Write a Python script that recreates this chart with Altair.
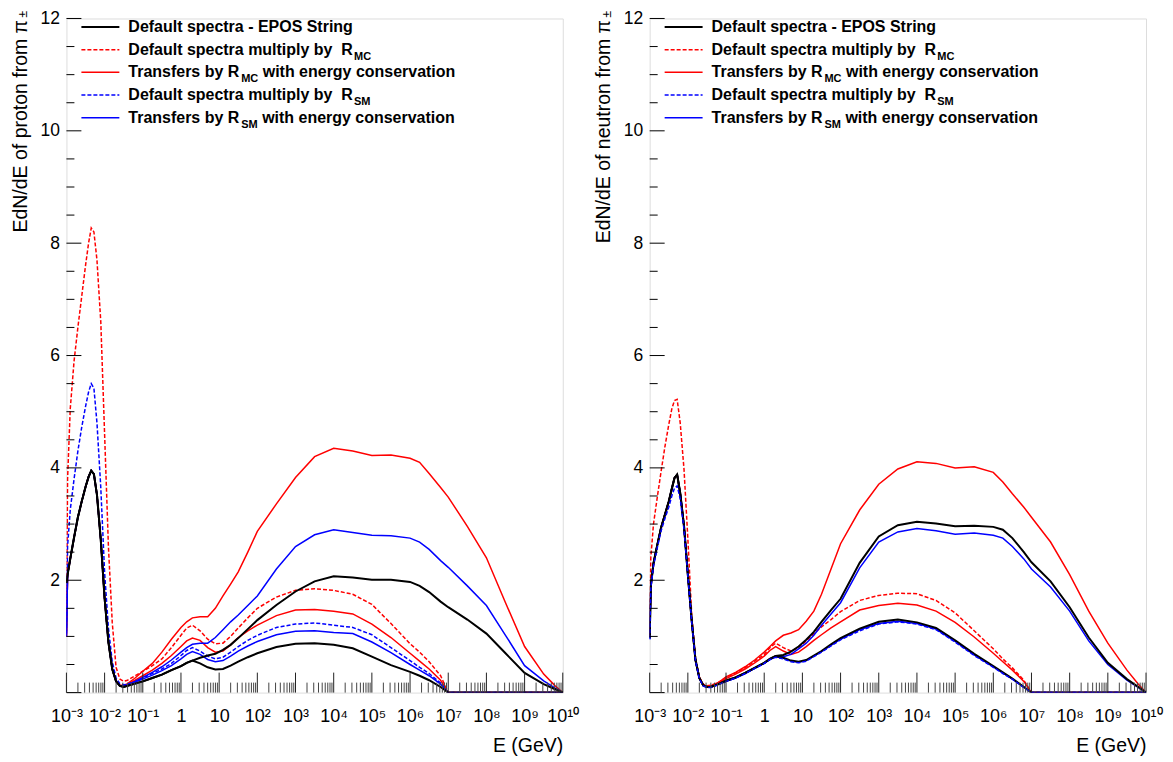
import altair as alt
import pandas as pd

# ---------------- data (log10 of E in GeV, and EdN/dE values) ----------------
LOG_E = [-3.0, -2.97, -2.9, -2.8, -2.7, -2.6, -2.5, -2.42, -2.35, -2.28, -2.2, -2.1,
         -2.0, -1.9, -1.8, -1.7, -1.6, -1.5, -1.4, -1.2, -1.0, -0.75, -0.5, -0.25,
         0.0, 0.15, 0.3, 0.5, 0.7, 0.9, 1.1, 1.3, 1.5, 1.75, 2.0, 2.5, 3.0, 3.5, 4.0,
         4.5, 5.0, 5.5, 6.0, 6.25, 6.5, 6.8, 7.0, 7.5, 8.0, 8.5, 9.0, 9.5, 9.8, 10.0]

# proton panel
P_BLACK_LO = [1.95, 2.1, 2.38, 2.76, 3.12, 3.4, 3.66, 3.84, 3.95, 3.89, 3.52, 2.72, 1.68, 0.9, 0.42, 0.2, 0.12, 0.1,
              0.12, 0.16, 0.2, 0.26, 0.32, 0.4, 0.47, 0.53, 0.57, 0.52, 0.45, 0.41, 0.42, 0.48, 0.55, 0.63,
              0.7, 0.81, 0.87, 0.88, 0.85, 0.79, 0.64, 0.49, 0.37, 0.3, 0.22, 0.1, 0.0, 0, 0, 0, 0, 0, 0, 0]
P_BLACK_HI = [1.95, 2.1, 2.38, 2.76, 3.12, 3.4, 3.66, 3.84, 3.95, 3.89, 3.52, 2.72, 1.68, 0.9, 0.42, 0.2, 0.12, 0.1,
              0.12, 0.16, 0.2, 0.26, 0.32, 0.4, 0.47, 0.53, 0.57,
              0.62, 0.66, 0.69, 0.76, 0.85, 0.97, 1.13, 1.29, 1.56, 1.8, 1.98, 2.07, 2.05, 2.01, 2.01, 1.97, 1.9,
              1.79, 1.62, 1.52, 1.3, 1.05, 0.7, 0.35, 0.15, 0.06, 0.0]
P_RED_DASH = [1.1, 3.8, 5.05, 5.9, 6.5, 7.05, 7.6, 8.0, 8.27, 8.2, 7.7, 6.6, 4.6, 2.6, 1.25, 0.45, 0.24, 0.2,
              0.22, 0.3, 0.38, 0.48, 0.6, 0.8, 1.02, 1.15, 1.2, 1.1, 0.95, 0.87, 0.88, 1.0, 1.15, 1.33,
              1.5, 1.7, 1.82, 1.85, 1.82, 1.75, 1.57, 1.23, 0.87, 0.72, 0.55, 0.3, 0.0, 0, 0, 0, 0, 0, 0, 0]
P_RED_LO = [1.0, 2.1, 2.38, 2.76, 3.12, 3.4, 3.66, 3.84, 3.95, 3.89, 3.52, 2.72, 1.68, 0.9, 0.42, 0.2, 0.13, 0.12,
            0.15, 0.22, 0.3, 0.4, 0.52, 0.66, 0.82, 0.92, 0.97, 0.93, 0.8, 0.72, 0.74, 0.85, 0.98, 1.1,
            1.2, 1.37, 1.47, 1.48, 1.45, 1.4, 1.22, 0.98, 0.7, 0.56, 0.42, 0.22, 0.0, 0, 0, 0, 0, 0, 0, 0]
P_RED_HI = [1.0, 2.1, 2.38, 2.76, 3.12, 3.4, 3.66, 3.84, 3.95, 3.89, 3.52, 2.72, 1.68, 0.9, 0.42, 0.2, 0.13, 0.12,
            0.16, 0.26, 0.38, 0.52, 0.72, 0.95, 1.16, 1.26, 1.33, 1.35, 1.35, 1.5, 1.72, 1.93, 2.15, 2.5,
            2.87, 3.36, 3.83, 4.2, 4.35, 4.3, 4.22, 4.23, 4.17, 4.1, 3.9, 3.65, 3.48, 2.96, 2.4, 1.6, 0.82, 0.33, 0.12, 0.0]
P_BLUE_DASH = [1.05, 2.6, 3.25, 3.8, 4.3, 4.72, 5.09, 5.35, 5.5, 5.42, 4.8, 3.65, 2.14, 1.15, 0.55, 0.26, 0.16, 0.14,
               0.15, 0.2, 0.26, 0.34, 0.42, 0.52, 0.66, 0.75, 0.8, 0.74, 0.65, 0.6, 0.63, 0.72, 0.82, 0.93,
               1.02, 1.16, 1.22, 1.24, 1.2, 1.16, 1.03, 0.8, 0.57, 0.45, 0.34, 0.17, 0.0, 0, 0, 0, 0, 0, 0, 0]
P_BLUE_LO = [1.0, 2.1, 2.38, 2.76, 3.12, 3.4, 3.66, 3.84, 3.95, 3.89, 3.52, 2.72, 1.68, 0.9, 0.42, 0.2, 0.12, 0.11,
             0.13, 0.19, 0.24, 0.31, 0.39, 0.48, 0.6, 0.68, 0.73, 0.68, 0.59, 0.55, 0.57, 0.65, 0.74, 0.83,
             0.91, 1.03, 1.09, 1.1, 1.07, 1.05, 0.9, 0.71, 0.5, 0.4, 0.3, 0.15, 0.0, 0, 0, 0, 0, 0, 0, 0]
P_BLUE_HI = [1.0, 2.1, 2.38, 2.76, 3.12, 3.4, 3.66, 3.84, 3.95, 3.89, 3.52, 2.72, 1.68, 0.9, 0.42, 0.2, 0.12, 0.11,
             0.14, 0.2, 0.27, 0.36, 0.46, 0.58, 0.72, 0.8, 0.86, 0.88, 0.88, 0.98, 1.12, 1.26, 1.38, 1.55,
             1.72, 2.2, 2.6, 2.81, 2.9, 2.85, 2.8, 2.79, 2.75, 2.68, 2.55, 2.35, 2.23, 1.9, 1.55, 1.02, 0.48, 0.21, 0.08, 0.0]

# neutron panel
N_BLACK_LO = [0.97, 1.9, 2.3, 2.63, 2.94, 3.17, 3.4, 3.63, 3.82, 3.88, 3.55, 2.96, 2.1, 1.29, 0.58, 0.26, 0.13, 0.1,
              0.1, 0.15, 0.21, 0.27, 0.35, 0.44, 0.53, 0.6, 0.65, 0.62, 0.57, 0.55, 0.58, 0.66, 0.74, 0.86,
              0.97, 1.14, 1.26, 1.3, 1.25, 1.15, 0.93, 0.69, 0.47, 0.36, 0.25, 0.1, 0.0, 0, 0, 0, 0, 0, 0, 0]
N_BLACK_HI = [0.97, 1.9, 2.3, 2.63, 2.94, 3.17, 3.4, 3.63, 3.82, 3.88, 3.55, 2.96, 2.1, 1.29, 0.58, 0.26, 0.13, 0.1,
              0.1, 0.15, 0.21, 0.27, 0.35, 0.44, 0.53, 0.6, 0.65,
              0.67, 0.73, 0.82, 0.94, 1.08, 1.26, 1.47, 1.67, 2.31, 2.78, 2.98, 3.04, 3.01, 2.96, 2.97, 2.95, 2.9,
              2.75, 2.5, 2.32, 1.98, 1.52, 0.98, 0.53, 0.24, 0.1, 0.0]
N_RED_DASH = [1.5, 2.4, 3.0, 3.48, 3.94, 4.38, 4.77, 5.05, 5.2, 5.22, 4.8, 3.97, 2.74, 1.4, 0.62, 0.28, 0.15, 0.12,
              0.13, 0.18, 0.27, 0.35, 0.44, 0.56, 0.68, 0.8, 0.88, 0.8, 0.74, 0.8, 0.92, 1.05, 1.17, 1.3,
              1.44, 1.64, 1.73, 1.77, 1.76, 1.64, 1.42, 1.1, 0.78, 0.6, 0.44, 0.22, 0.0, 0, 0, 0, 0, 0, 0, 0]
N_RED_LO = [1.0, 1.9, 2.3, 2.63, 2.94, 3.17, 3.4, 3.63, 3.82, 3.88, 3.55, 2.96, 2.1, 1.29, 0.58, 0.26, 0.14, 0.11,
            0.12, 0.17, 0.25, 0.33, 0.42, 0.53, 0.65, 0.75, 0.82, 0.74, 0.68, 0.72, 0.82, 0.93, 1.03, 1.15,
            1.26, 1.47, 1.55, 1.59, 1.56, 1.45, 1.25, 0.99, 0.7, 0.55, 0.4, 0.2, 0.0, 0, 0, 0, 0, 0, 0, 0]
N_RED_HI = [1.0, 1.9, 2.3, 2.63, 2.94, 3.17, 3.4, 3.63, 3.82, 3.88, 3.55, 2.96, 2.1, 1.29, 0.58, 0.26, 0.14, 0.11,
            0.12, 0.18, 0.28, 0.36, 0.46, 0.58, 0.72, 0.82, 0.92, 1.02, 1.06, 1.12, 1.27, 1.45, 1.75, 2.2,
            2.65, 3.25, 3.71, 3.98, 4.11, 4.08, 4.0, 4.02, 3.92, 3.75, 3.54, 3.3, 3.12, 2.68, 2.1, 1.45, 0.88, 0.4, 0.15, 0.0]
N_BLUE_DASH = [0.95, 1.85, 2.25, 2.58, 2.88, 3.1, 3.3, 3.5, 3.64, 3.68, 3.45, 2.9, 2.08, 1.27, 0.57, 0.25, 0.12, 0.09,
               0.09, 0.14, 0.2, 0.26, 0.34, 0.43, 0.52, 0.59, 0.63, 0.6, 0.55, 0.53, 0.56, 0.64, 0.72, 0.83,
               0.94, 1.1, 1.22, 1.26, 1.22, 1.12, 0.9, 0.66, 0.45, 0.34, 0.24, 0.09, 0.0, 0, 0, 0, 0, 0, 0, 0]
N_BLUE_LO = [0.95, 1.9, 2.3, 2.63, 2.94, 3.17, 3.4, 3.63, 3.82, 3.88, 3.55, 2.96, 2.1, 1.29, 0.58, 0.26, 0.13, 0.1,
             0.1, 0.15, 0.2, 0.26, 0.34, 0.43, 0.52, 0.59, 0.64, 0.61, 0.56, 0.54, 0.57, 0.65, 0.73, 0.84,
             0.95, 1.12, 1.23, 1.27, 1.23, 1.13, 0.91, 0.67, 0.46, 0.35, 0.24, 0.1, 0.0, 0, 0, 0, 0, 0, 0, 0]
N_BLUE_HI = [0.95, 1.9, 2.3, 2.63, 2.94, 3.17, 3.4, 3.63, 3.82, 3.88, 3.55, 2.96, 2.1, 1.29, 0.58, 0.26, 0.13, 0.1,
             0.1, 0.15, 0.2, 0.26, 0.34, 0.43, 0.52, 0.59, 0.64,
             0.64, 0.68, 0.78, 0.88, 1.02, 1.2, 1.4, 1.6, 2.22, 2.68, 2.86, 2.92, 2.88, 2.82, 2.84, 2.8, 2.75,
             2.6, 2.38, 2.2, 1.88, 1.45, 0.92, 0.5, 0.22, 0.09, 0.0]

X_EXPONENTS = list(range(-3, 11))
X_TICK_LABELS = ["10⁻³", "10⁻²", "10⁻¹", "1", "10", "10²", "10³", "10⁴", "10⁵",
                 "10⁶", "10⁷", "10⁸", "10⁹", "10¹⁰"]
Y_TICK_VALUES = [2, 4, 6, 8, 10, 12]
Y_MAJOR = [0, 2, 4, 6, 8, 10, 12]
Y_MINOR = [0.5, 1, 1.5, 2.5, 3, 3.5, 4.5, 5, 5.5, 6.5, 7, 7.5, 8.5, 9, 9.5, 10.5, 11, 11.5]

LEGEND_STYLE = ["black", "reddash", "red", "bluedash", "blue"]
LEGEND_MAIN = ["Default spectra - EPOS String", "Default spectra multiply by\u00a0 R", "Transfers by R",
               "Default spectra multiply by\u00a0 R", "Transfers by R"]
LEGEND_SUB = ["", "MC", "MC", "SM", "SM"]
LEGEND_TAIL = ["", "", " with energy conservation", "", " with energy conservation"]

Y_TITLES = ["EdN/dE of proton from π", "EdN/dE of neutron from π"]
X_TITLE = "E (GeV)"

# ---------------- styling ----------------
W, H = 497, 675
FONT = "Liberation Sans"
STYLE = {
    "black": ("#000000", None, 2.0),
    "reddash": ("#ff0000", [4, 2], 1.5),
    "red": ("#ff0000", None, 1.5),
    "bluedash": ("#0000ff", [4, 2], 1.5),
    "blue": ("#0000ff", None, 1.5),
}
HB = {' ': 278, '\u00a0': 278, '-': 333, 'C': 722, 'D': 722, 'E': 667, 'M': 833, 'O': 778, 'P': 667,
      'R': 722, 'S': 667, 'T': 611, 'a': 556, 'b': 611, 'c': 556, 'e': 556, 'f': 333, 'g': 611,
      'h': 611, 'i': 278, 'l': 278, 'm': 889, 'n': 611, 'o': 611, 'p': 611, 'r': 389, 's': 556,
      't': 333, 'u': 611, 'v': 556, 'w': 778, 'y': 556}


def tw(s, size):
    return sum(HB.get(c, 556) for c in s) * size / 1000.0


xscale = alt.Scale(type="log", domain=[1e-3, 1e10], nice=False)
yscale = alt.Scale(domain=[0, 12], nice=False, zero=False)

label_expr = "[" + ",".join("'%s'" % s for s in X_TICK_LABELS) + "][round(log(datum.value)/LN10)+3]"

X_AXIS = alt.Axis(
    values=[10.0 ** e for e in X_EXPONENTS], labelExpr=label_expr, labelOverlap=False,
    labelFlush=False, labelPadding=15, labelFontSize=18, labelFont=FONT, labelColor="black",
    title=X_TITLE, titleAnchor="end", titleAlign="right", titleX=W, titleY=53,
    titleBaseline="middle", titleFont=FONT, titleFontSize=19.5, titleFontWeight="normal",
    titleColor="black", ticks=False, domain=False, grid=False)


def y_axis(title):
    return alt.Axis(
        values=Y_TICK_VALUES, labelFontSize=17.5, labelFont=FONT, labelColor="black",
        labelPadding=7, labelFlush=False, ticks=False, domain=False, grid=False,
        title=title, titleFont=FONT, titleFontSize=19.5, titleFontWeight="normal",
        titleColor="black", titleAngle=270, titleAlign="right", titleBaseline="middle",
        titleX=-46, titleY=1)


def panel(curves, ytitle):
    XE = alt.X("E:Q", scale=xscale, axis=X_AXIS)
    YV = alt.Y("v:Q", scale=yscale, axis=y_axis(ytitle))
    layers = []
    for vals, style in curves:
        color, dash, sw = STYLE[style]
        df = pd.DataFrame({"E": [10 ** l for l in LOG_E], "v": vals})
        kw = dict(color=color, strokeWidth=sw, clip=True)
        if dash:
            kw["strokeDash"] = dash
        layers.append(alt.Chart(df).mark_line(**kw).encode(x=XE, y=YV))
    # inner ticks
    ymaj = alt.Chart(pd.DataFrame({"v": Y_MAJOR})).mark_rule(color="black", strokeWidth=1).encode(
        y=YV, x=alt.value(0), x2=alt.value(15))
    ymin = alt.Chart(pd.DataFrame({"v": Y_MINOR})).mark_rule(color="black", strokeWidth=1).encode(
        y=YV, x=alt.value(0), x2=alt.value(8))
    xmaj_vals = [10.0 ** e for e in X_EXPONENTS]
    xmin_vals = [k * 10.0 ** e for e in X_EXPONENTS[:-1] for k in range(2, 10)]
    xmaj = alt.Chart(pd.DataFrame({"E": xmaj_vals})).mark_rule(color="#222222", strokeWidth=1).encode(
        x=XE, y=alt.value(H), y2=alt.value(H - 20))
    xmin = alt.Chart(pd.DataFrame({"E": xmin_vals})).mark_rule(color="#444444", strokeWidth=1).encode(
        x=XE, y=alt.value(H), y2=alt.value(H - 10))
    layers += [ymaj, ymin, xmaj, xmin]
    # superscript ± on the y title
    pm = alt.Chart(pd.DataFrame({"t": ["±"]})).mark_text(
        font=FONT, fontSize=12, angle=270, align="left", baseline="middle", color="black").encode(
        text="t:N", x=alt.value(-43), y=alt.value(-1))
    layers.append(pm)
    # legend
    one = pd.DataFrame({"a": [0]})
    y0, dy = 8.5, 22.7
    for i, (st, main, sub, tail) in enumerate(zip(LEGEND_STYLE, LEGEND_MAIN, LEGEND_SUB, LEGEND_TAIL)):
        yc = y0 + i * dy
        color, dash, sw = STYLE[st]
        kw = dict(color=color, strokeWidth=sw)
        if dash:
            kw["strokeDash"] = dash
        layers.append(alt.Chart(one).mark_rule(**kw).encode(
            x=alt.value(15), x2=alt.value(53), y=alt.value(yc)))
        tx = 62
        layers.append(alt.Chart(pd.DataFrame({"t": [main]})).mark_text(
            font=FONT, fontSize=16, fontWeight="bold", align="left", baseline="middle", color="black"
        ).encode(text="t:N", x=alt.value(tx), y=alt.value(yc)))
        if sub:
            sx = tx + tw(main, 16) + 1
            layers.append(alt.Chart(pd.DataFrame({"t": [sub]})).mark_text(
                font=FONT, fontSize=11, fontWeight="bold", align="left", baseline="middle", color="black"
            ).encode(text="t:N", x=alt.value(sx), y=alt.value(yc + 7)))
            if tail:
                tx2 = sx + tw(sub, 11) + tw(" ", 16)
                layers.append(alt.Chart(pd.DataFrame({"t": [tail.strip()]})).mark_text(
                    font=FONT, fontSize=16, fontWeight="bold", align="left", baseline="middle",
                    color="black").encode(text="t:N", x=alt.value(tx2), y=alt.value(yc)))
    return alt.layer(*layers).properties(width=W, height=H)


left = panel([(P_RED_DASH, "reddash"), (P_RED_LO, "red"), (P_RED_HI, "red"),
              (P_BLUE_DASH, "bluedash"), (P_BLUE_LO, "blue"), (P_BLUE_HI, "blue"),
              (P_BLACK_LO, "black"), (P_BLACK_HI, "black")], Y_TITLES[0])
right = panel([(N_RED_DASH, "reddash"), (N_RED_LO, "red"), (N_RED_HI, "red"),
               (N_BLUE_LO, "blue"), (N_BLUE_HI, "blue"),
               (N_BLACK_LO, "black"), (N_BLACK_HI, "black"), (N_BLUE_DASH, "bluedash")], Y_TITLES[1])

chart = alt.hconcat(left, right, spacing=87, bounds="flush").properties(
    padding={"left": 1.5, "top": 0, "right": 2, "bottom": 2}
).configure_view(stroke="black", strokeWidth=1).configure(background="white")

chart.save("out.html", embed_options={"renderer": "svg", "actions": False})
